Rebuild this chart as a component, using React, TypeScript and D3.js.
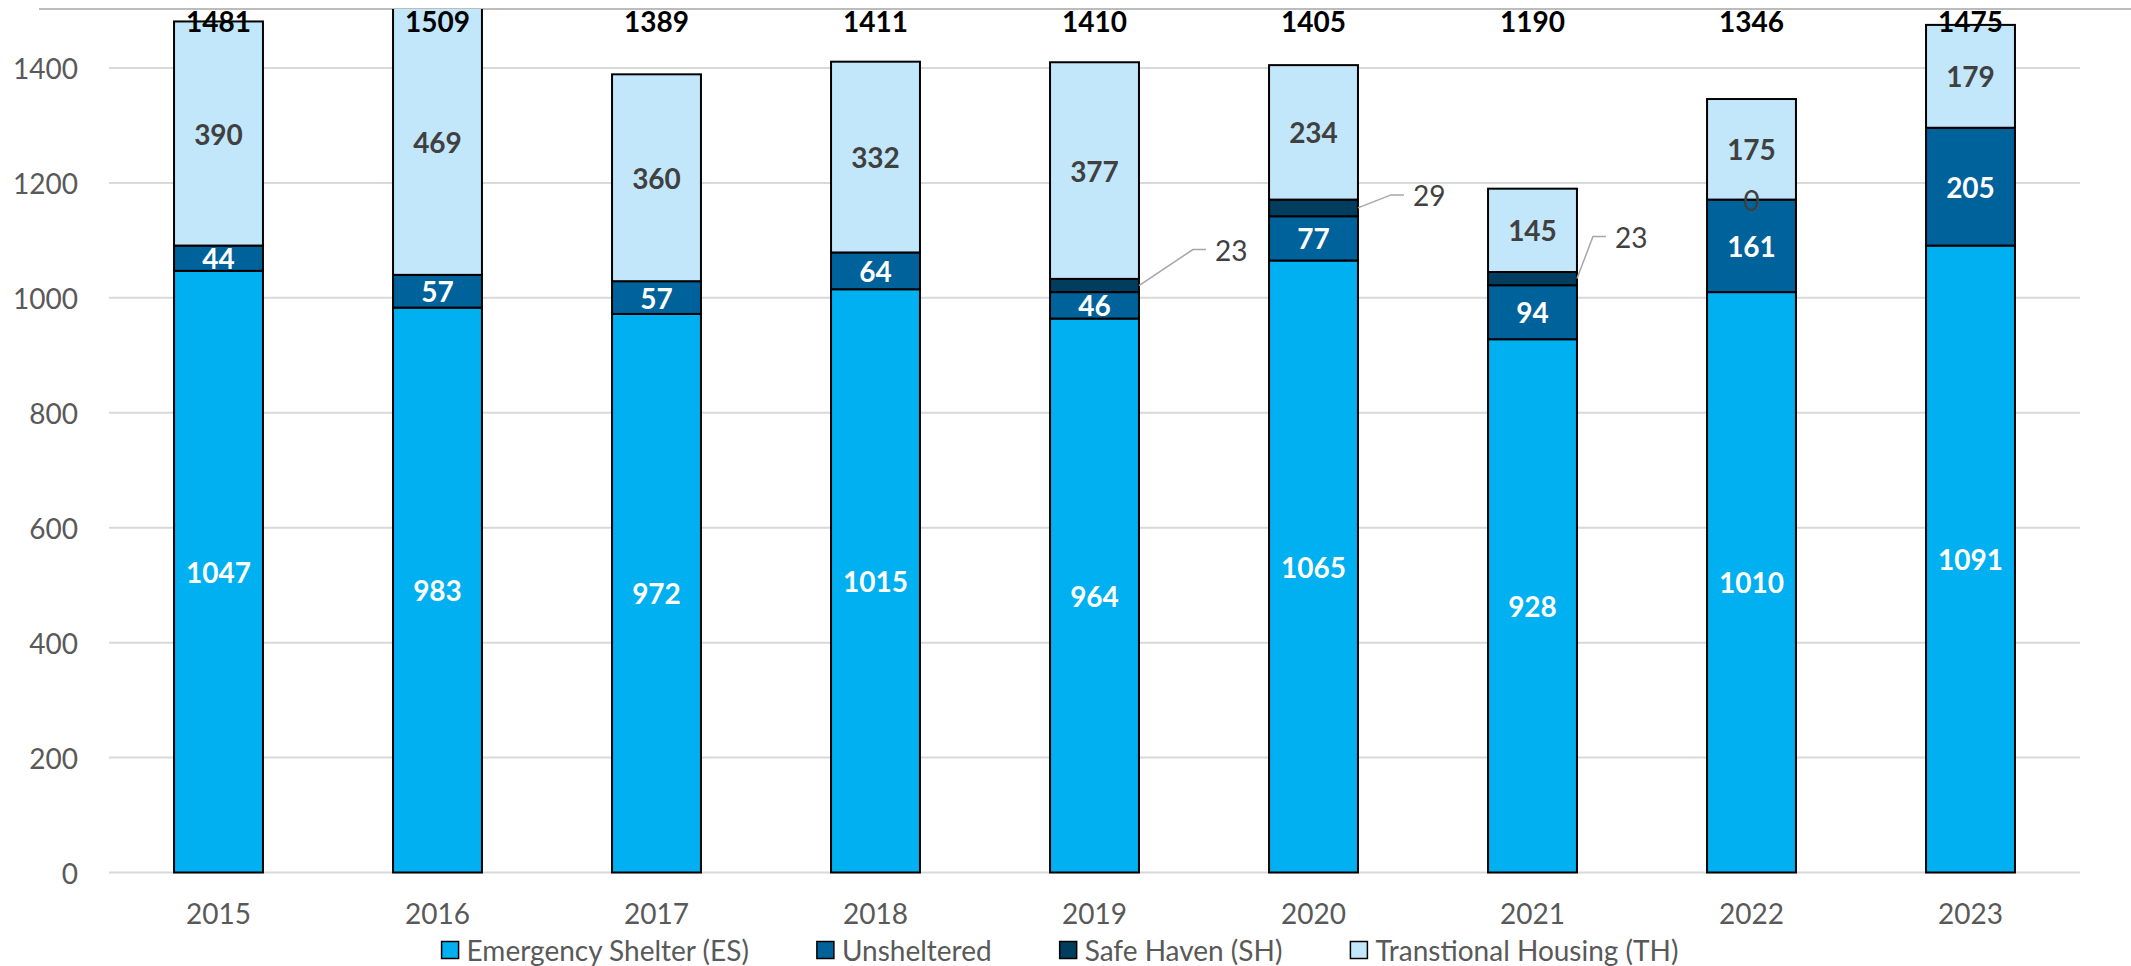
import React, { useRef, useEffect } from "react";
import * as d3 from "d3";

const years = ["2015", "2016", "2017", "2018", "2019", "2020", "2021", "2022", "2023"];
const emergencyShelter = [1047, 983, 972, 1015, 964, 1065, 928, 1010, 1091];
const unsheltered = [44, 57, 57, 64, 46, 77, 94, 161, 205];
const safeHaven: (number | null)[] = [null, null, null, null, 23, 29, 23, 0, null];
const transitionalHousing = [390, 469, 360, 332, 377, 234, 145, 175, 179];
const totals = [1481, 1509, 1389, 1411, 1410, 1405, 1190, 1346, 1475];
const yTicks = [0, 200, 400, 600, 800, 1000, 1200, 1400];

const seriesNames = ["Emergency Shelter (ES)", "Unsheltered", "Safe Haven (SH)", "Transtional Housing (TH)"];
const seriesKeys = ["es", "un", "sh", "th"];
const seriesColors = ["#00B0F0", "#00629B", "#003D5E", "#C2E7FB"];
const labelColors = ["#FFFFFF", "#FFFFFF", "#404040", "#404040"];

// Safe Haven labels that Excel moved outside the bar, offset from the right edge (dx, dy)
const shLabelOffsets: ([number, number] | null)[] = [null, null, null, null, [91, -36], [70, -13], [53, -42], null, null];

const W = 2131;
const H = 966;
const FONT = "Lato, 'Open Sans', sans-serif";
const FS = 28;

const App = () => {
  const svgRef = useRef<SVGSVGElement>(null);

  useEffect(() => {
    const svg = d3.select(svgRef.current);
    svg.selectAll("*").remove();

    const x = d3
      .scaleBand()
      .domain(years)
      .range([109, 2080])
      .paddingInner(0.594)
      .paddingOuter(0.297);
    const y = d3.scaleLinear().domain([0, 1400]).range([872.5, 68]);

    svg
      .append("defs")
      .append("clipPath")
      .attr("id", "plotClip")
      .append("rect")
      .attr("x", 0)
      .attr("y", 9)
      .attr("width", W)
      .attr("height", H);

    // top border
    svg
      .append("line")
      .attr("x1", 39)
      .attr("x2", W)
      .attr("y1", 9)
      .attr("y2", 9)
      .attr("stroke", "#A6A6A6")
      .attr("stroke-width", 1.5);

    // gridlines
    svg
      .append("g")
      .selectAll("line")
      .data(yTicks)
      .enter()
      .append("line")
      .attr("x1", 109)
      .attr("x2", 2080)
      .attr("y1", (d) => y(d))
      .attr("y2", (d) => y(d))
      .attr("stroke", "#D9D9D9")
      .attr("stroke-width", 2);

    svg
      .append("g")
      .selectAll("text")
      .data(yTicks)
      .enter()
      .append("text")
      .attr("x", 78)
      .attr("y", (d) => y(d))
      .attr("text-anchor", "end")
      .attr("dominant-baseline", "central")
      .attr("font-family", FONT)
      .attr("font-size", FS)
      .attr("fill", "#595959")
      .text((d) => d);

    const rows = years.map((yr, i) => ({
      year: yr,
      es: emergencyShelter[i],
      un: unsheltered[i],
      sh: safeHaven[i] ?? 0,
      th: transitionalHousing[i],
    }));
    const stacked = d3.stack<any>().keys(seriesKeys)(rows);

    const bars = svg.append("g").attr("clip-path", "url(#plotClip)");
    stacked.forEach((s, si) => {
      bars
        .append("g")
        .selectAll("rect")
        .data(s.filter((d) => d[1] - d[0] > 0))
        .enter()
        .append("rect")
        .attr("x", (d) => x(d.data.year)!)
        .attr("width", x.bandwidth())
        .attr("y", (d) => y(d[1]))
        .attr("height", (d) => y(d[0]) - y(d[1]))
        .attr("fill", seriesColors[si])
        .attr("stroke", "#000")
        .attr("stroke-width", 2);
    });

    // segment labels
    const labels = svg.append("g").attr("font-family", FONT).attr("font-size", FS);
    stacked.forEach((s, si) => {
      s.forEach((d, i) => {
        const key = seriesKeys[si];
        if (key === "sh" && safeHaven[i] === null) return;
        const v = d.data[key];
        const cx = x(d.data.year)! + x.bandwidth() / 2;
        const top = Math.max(y(d[1]), 9);
        const cy = (top + y(d[0])) / 2;
        if (key === "sh") {
          const off = shLabelOffsets[i];
          if (off) {
            const ax = x(d.data.year)! + x.bandwidth();
            const lx = ax + off[0] - 15;
            const ly = cy + off[1];
            labels
              .append("polyline")
              .attr("points", `${ax},${cy} ${lx - 22},${ly} ${lx - 9},${ly}`)
              .attr("fill", "none")
              .attr("stroke", "#A6A6A6")
              .attr("stroke-width", 1.5);
            labels
              .append("text")
              .attr("x", lx)
              .attr("y", ly)
              .attr("dominant-baseline", "central")
              .attr("fill", labelColors[si])
              .text(v);
            return;
          }
          labels
            .append("text")
            .attr("x", cx)
            .attr("y", cy)
            .attr("text-anchor", "middle")
            .attr("dominant-baseline", "central")
            .attr("fill", labelColors[si])
            .text(v);
          return;
        }
        labels
          .append("text")
          .attr("x", cx)
          .attr("y", cy)
          .attr("text-anchor", "middle")
          .attr("dominant-baseline", "central")
          .attr("font-weight", "bold")
          .attr("fill", labelColors[si])
          .text(v);
      });
    });

    // totals
    svg
      .append("g")
      .selectAll("text")
      .data(totals)
      .enter()
      .append("text")
      .attr("x", (d, i) => x(years[i])! + x.bandwidth() / 2)
      .attr("y", 21)
      .attr("text-anchor", "middle")
      .attr("dominant-baseline", "central")
      .attr("font-family", FONT)
      .attr("font-size", FS)
      .attr("font-weight", "bold")
      .attr("fill", "#000")
      .text((d) => d);

    // x axis labels
    svg
      .append("g")
      .selectAll("text")
      .data(years)
      .enter()
      .append("text")
      .attr("x", (d) => x(d)! + x.bandwidth() / 2)
      .attr("y", 913)
      .attr("text-anchor", "middle")
      .attr("dominant-baseline", "central")
      .attr("font-family", FONT)
      .attr("font-size", FS)
      .attr("fill", "#595959")
      .text((d) => d);

    // legend
    const legend = svg.append("g");
    const items = seriesNames.map((name, i) => {
      const g = legend.append("g");
      g.append("rect")
        .attr("x", 0)
        .attr("y", 950 - 8.5)
        .attr("width", 17)
        .attr("height", 17)
        .attr("fill", seriesColors[i])
        .attr("stroke", "#000")
        .attr("stroke-width", 1.5);
      const t = g
        .append("text")
        .attr("x", 25)
        .attr("y", 950)
        .attr("dominant-baseline", "central")
        .attr("font-family", FONT)
        .attr("font-size", FS)
        .attr("fill", "#595959")
        .text(name);
      const w = 25 + (t.node() as SVGTextElement).getComputedTextLength();
      return { g, w };
    });
    const gap = 68;
    const total = d3.sum(items, (d) => d.w) + gap * (items.length - 1);
    let cur = 1060 - total / 2;
    items.forEach((it) => {
      it.g.attr("transform", `translate(${cur},0)`);
      cur += it.w + gap;
    });
  }, []);

  return (
    <svg
      ref={svgRef}
      width={W}
      height={H}
      style={{ position: "absolute", left: 0, top: 0, background: "#fff" }}
    />
  );
};

export default App;
